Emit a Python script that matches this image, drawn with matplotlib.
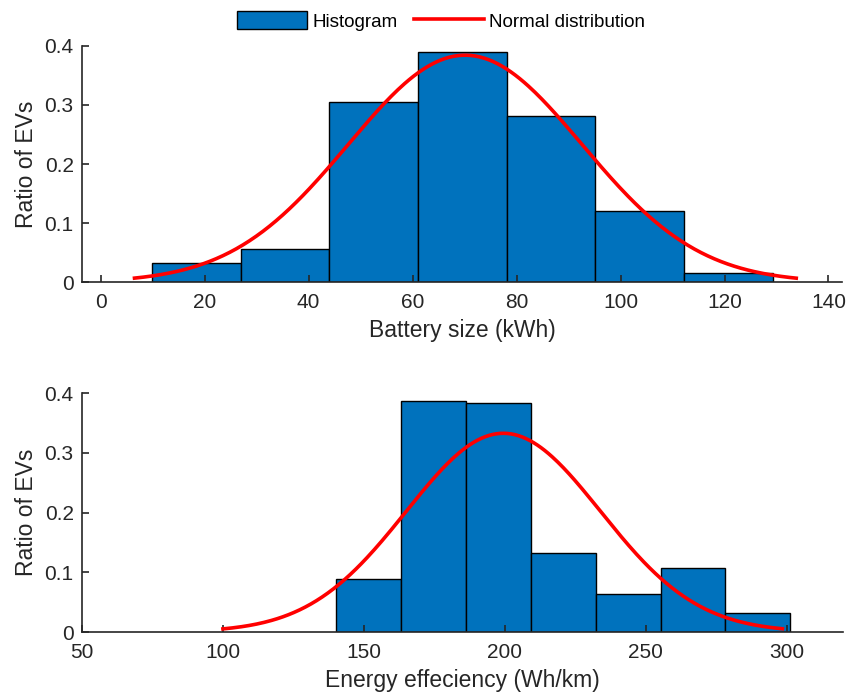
import numpy as np
import matplotlib.pyplot as plt
from matplotlib.patches import Patch
from matplotlib.lines import Line2D

plt.rcParams['font.family'] = ['Liberation Sans', 'DejaVu Sans']

# battery size histogram (kWh)
batt_edges = [9.9, 26.95, 44.0, 61.05, 78.1, 95.15, 112.2, 129.25]
batt_ratio = [0.033, 0.056, 0.305, 0.389, 0.281, 0.120, 0.016]
# fitted normal curve
batt_mu, batt_sd, batt_peak = 70.1, 22.5, 0.384
batt_range = (6.5, 133.8)

# energy efficiency histogram (Wh/km)
eff_edges = [140.1, 163.1, 186.2, 209.2, 232.2, 255.3, 278.3, 301.3]
eff_ratio = [0.088, 0.387, 0.383, 0.132, 0.064, 0.108, 0.032]
eff_mu, eff_sd, eff_peak = 199.5, 34.5, 0.333
eff_range = (100, 298.5)

blue = '#0072BD'
red = '#FF0000'


def draw(ax, edges, ratio, mu, sd, peak, rng, xlim, xticks, xlabel):
    edges = np.array(edges)
    ax.bar(edges[:-1], ratio, width=np.diff(edges), align='edge',
           color=blue, edgecolor='black', linewidth=1.0)
    xs = np.linspace(rng[0], rng[1], 300)
    ax.plot(xs, peak * np.exp(-0.5 * ((xs - mu) / sd) ** 2), color=red, lw=2.6)
    ax.set_xlim(*xlim)
    ax.set_ylim(0, 0.4)
    ax.set_xticks(xticks)
    ax.set_yticks([0, 0.1, 0.2, 0.3, 0.4])
    ax.set_yticklabels(['0', '0.1', '0.2', '0.3', '0.4'])
    ax.spines['top'].set_visible(False)
    ax.spines['right'].set_visible(False)
    for s in ['left', 'bottom']:
        ax.spines[s].set_linewidth(1.2)
        ax.spines[s].set_color('#262626')
    ax.tick_params(direction='in', length=5, width=1.2, labelsize=15,
                   colors='#262626')
    ax.tick_params(axis='x', pad=8)
    ax.tick_params(axis='y', pad=6)
    ax.set_xlabel(xlabel, fontsize=16.5, color='#262626', labelpad=5)
    ax.set_ylabel('Ratio of EVs', fontsize=16.5, color='#262626', labelpad=5)


fig = plt.figure(figsize=(8.46, 6.97), dpi=100)
ax1 = fig.add_axes([82 / 846, 1 - 282.3 / 697, 760 / 846, 236.6 / 697])
ax2 = fig.add_axes([82 / 846, 1 - 632 / 697, 761 / 846, 238.7 / 697])

draw(ax1, batt_edges, batt_ratio, batt_mu, batt_sd, batt_peak, batt_range,
     (-3.6, 142.6), [0, 20, 40, 60, 80, 100, 120, 140], 'Battery size (kWh)')
draw(ax2, eff_edges, eff_ratio, eff_mu, eff_sd, eff_peak, eff_range,
     (50, 320), [50, 100, 150, 200, 250, 300], 'Energy effeciency (Wh/km)')

handles = [Patch(facecolor=blue, edgecolor='black', linewidth=1.0),
           Line2D([], [], color=red, lw=2.6)]
fig.legend(handles, ['Histogram', 'Normal distribution'], loc='center',
           bbox_to_anchor=(441 / 846, 1 - 21 / 697), ncol=2, frameon=False,
           fontsize=13.6, handlelength=3.7, handleheight=1.1,
           handletextpad=0.3, columnspacing=0.85)

fig.savefig('out.png', dpi=100)
